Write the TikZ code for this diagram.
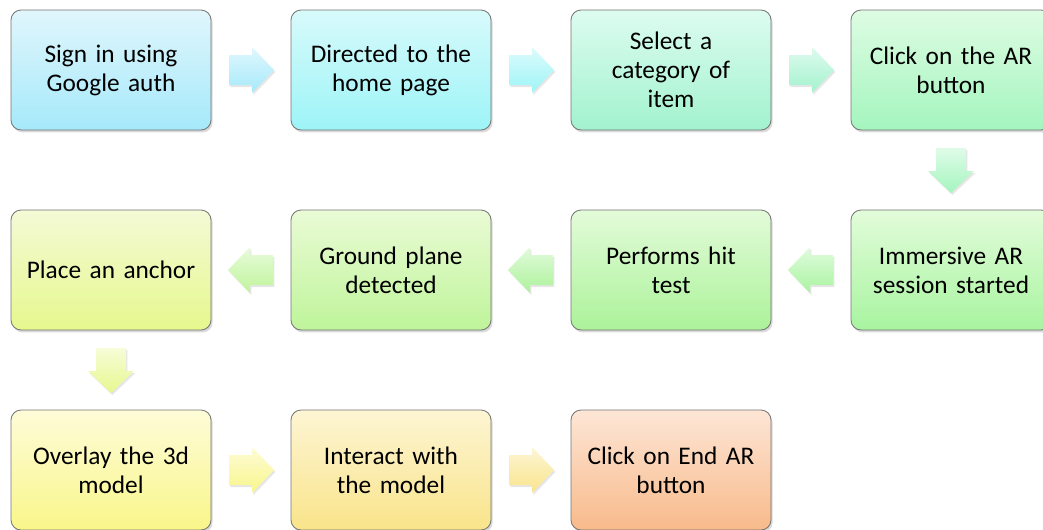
\documentclass[tikz,border=0pt]{standalone}
\usepackage{fontspec}
\setmainfont{Carlito}
\usetikzlibrary{positioning,shadows,calc}

\definecolor{signTop}{HTML}{E0F6FC}
\definecolor{signBot}{HTML}{A6E9FA}
\definecolor{homeTop}{HTML}{D8FAFB}
\definecolor{homeBot}{HTML}{9DF4F7}
\definecolor{catTop}{HTML}{DDFCF0}
\definecolor{catBot}{HTML}{A2F2CE}
\definecolor{arTop}{HTML}{DEFCE3}
\definecolor{arBot}{HTML}{A4F5BE}
\definecolor{sessTop}{HTML}{E2FCDA}
\definecolor{sessBot}{HTML}{A8F4A0}
\definecolor{hitTop}{HTML}{E3FBD9}
\definecolor{hitBot}{HTML}{ACF29A}
\definecolor{planeTop}{HTML}{EAFBD6}
\definecolor{planeBot}{HTML}{BFF49A}
\definecolor{anchorTop}{HTML}{F4FAD6}
\definecolor{anchorBot}{HTML}{E6F88E}
\definecolor{overTop}{HTML}{FEFCD8}
\definecolor{overBot}{HTML}{F9F68A}
\definecolor{interTop}{HTML}{FDF5D4}
\definecolor{interBot}{HTML}{F9E48A}
\definecolor{endTop}{HTML}{FDE6D6}
\definecolor{endBot}{HTML}{F8BA8A}

\tikzset{
  stepbox/.style 2 args={draw=black!55, line width=0.6pt, rounded corners=7.5pt,
    minimum width=150pt, minimum height=90pt, text width=140pt, inner sep=2pt, outer sep=0pt,
    align=center, font=\fontsize{19}{21.75}\selectfont, top color=#1, bottom color=#2,
    drop shadow={opacity=0.3, shadow xshift=1.2pt, shadow yshift=-1.8pt}},
  pics/blockarrow/.style={code={
    \shade[top color=#1!35!white, bottom color=#1, drop shadow={opacity=0.2, shadow xshift=1pt, shadow yshift=-1.5pt}]
      (-22,-15) -- (1,-15) -- (1,-23) -- (23,0) -- (1,23) -- (1,15) -- (-22,15) -- cycle;
  }},
}

\begin{document}
\begin{tikzpicture}[x=0.75pt,y=0.75pt,yscale=-1,xscale=1,node distance=60pt and 60pt]
\useasboundingbox (0,0) rectangle (1043,529);

% first row
\node[stepbox={signTop}{signBot}] (sign) at (111,70) {Sign in using\\Google auth};
\node[stepbox={homeTop}{homeBot}, right=of sign] (home) {Directed to the\\home page};
\node[stepbox={catTop}{catBot}, right=of home] (cat) {Select a\\category of\\item};
\node[stepbox={arTop}{arBot}, right=of cat] (ar) {Click on the AR\\button};
% second row
\node[stepbox={sessTop}{sessBot}, below=of ar] (sess) {Immersive AR\\session started};
\node[stepbox={hitTop}{hitBot}, left=of sess] (hit) {Performs hit\\test};
\node[stepbox={planeTop}{planeBot}, left=of hit] (plane) {Ground plane\\detected};
\node[stepbox={anchorTop}{anchorBot}, left=of plane] (anchor) {Place an anchor};
% third row
\node[stepbox={overTop}{overBot}, below=of anchor] (over) {Overlay the 3d\\model};
\node[stepbox={interTop}{interBot}, right=of over] (inter) {Interact with\\the model};
\node[stepbox={endTop}{endBot}, right=of inter] (endar) {Click on End AR\\button};

% block arrows
\pic at ($(sign.east)!0.5!(home.west)$) {blockarrow=signBot};
\pic at ($(home.east)!0.5!(cat.west)$) {blockarrow=homeBot};
\pic at ($(cat.east)!0.5!(ar.west)$) {blockarrow=catBot};
\pic[rotate=-90] at ($(ar.south)!0.5!(sess.north)$) {blockarrow=arBot};
\pic[rotate=180] at ($(sess.west)!0.5!(hit.east)$) {blockarrow=sessBot};
\pic[rotate=180] at ($(hit.west)!0.5!(plane.east)$) {blockarrow=hitBot};
\pic[rotate=180] at ($(plane.west)!0.5!(anchor.east)$) {blockarrow=planeBot};
\pic[rotate=-90] at ($(anchor.south)!0.5!(over.north)$) {blockarrow=anchorBot};
\pic at ($(over.east)!0.5!(inter.west)$) {blockarrow=overBot};
\pic at ($(inter.east)!0.5!(endar.west)$) {blockarrow=interBot};

\end{tikzpicture}
\end{document}
